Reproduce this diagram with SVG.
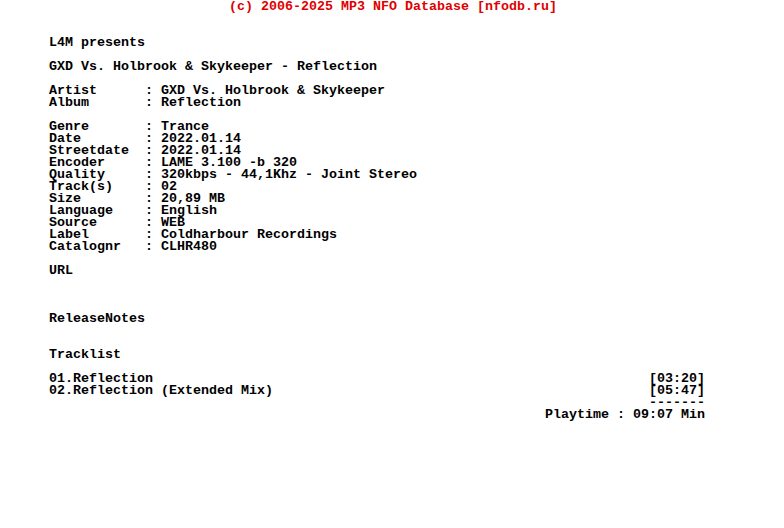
<svg xmlns="http://www.w3.org/2000/svg" width="784" height="528" viewBox="0 0 784 528">
<style>
text{font-family:"Liberation Mono","DejaVu Sans Mono",monospace;font-size:13.33px;font-weight:bold;fill:#000;white-space:pre}
.h{fill:#e00000}
</style>
<rect width="784" height="528" fill="#fff"/>
<text class="h" x="229" y="10" xml:space="preserve">(c) 2006-2025 MP3 NFO Database [nfodb.ru]</text>
<g id="body" xml:space="preserve">
<text x="49" y="46">L4M presents</text>
<text x="49" y="70">GXD Vs. Holbrook &amp; Skykeeper - Reflection</text>
<text x="49" y="94">Artist      : GXD Vs. Holbrook &amp; Skykeeper</text>
<text x="49" y="106">Album       : Reflection</text>
<text x="49" y="130">Genre       : Trance</text>
<text x="49" y="142">Date        : 2022.01.14</text>
<text x="49" y="154">Streetdate  : 2022.01.14</text>
<text x="49" y="166">Encoder     : LAME 3.100 -b 320</text>
<text x="49" y="178">Quality     : 320kbps - 44,1Khz - Joint Stereo</text>
<text x="49" y="190">Track(s)    : 02</text>
<text x="49" y="202">Size        : 20,89 MB</text>
<text x="49" y="214">Language    : English</text>
<text x="49" y="226">Source      : WEB</text>
<text x="49" y="238">Label       : Coldharbour Recordings</text>
<text x="49" y="250">Catalognr   : CLHR480</text>
<text x="49" y="274">URL</text>
<text x="49" y="322">ReleaseNotes</text>
<text x="49" y="358">Tracklist</text>
<text x="49" y="382">01.Reflection</text>
<text x="649" y="382">[03:20]</text>
<text x="49" y="394">02.Reflection (Extended Mix)</text>
<text x="649" y="394">[05:47]</text>
<text x="649" y="406">-------</text>
<text x="545" y="418">Playtime : 09:07 Min</text>
</g>
</svg>
